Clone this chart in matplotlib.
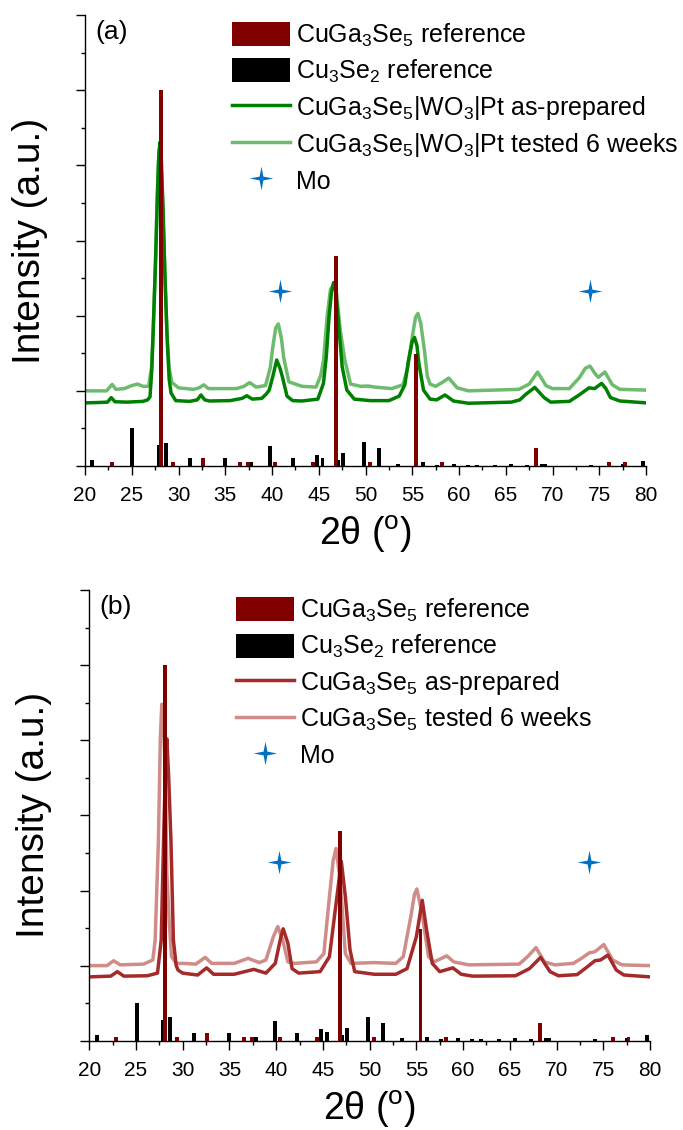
import matplotlib
matplotlib.use("Agg")
import matplotlib.pyplot as plt
from matplotlib.path import Path
from matplotlib.ticker import MultipleLocator

plt.rcParams['font.family'] = ['Liberation Sans', 'DejaVu Sans']
plt.rcParams['mathtext.fontset'] = 'custom'
plt.rcParams['mathtext.rm'] = 'Liberation Sans'
plt.rcParams['mathtext.it'] = 'Liberation Sans:italic'
plt.rcParams['mathtext.default'] = 'regular'

# reference stick patterns (2theta, relative intensity)
cgs_pos = [22.9, 28.14, 29.4, 32.57, 36.54, 37.4, 40.36, 44.36, 46.8, 50.44, 55.44, 58.15, 68.26, 76.0, 77.7]
cgs_int = [0.05, 5.0, 0.05, 0.10, 0.05, 0.05, 0.05, 0.05, 2.79, 0.05, 1.49, 0.05, 0.24, 0.05, 0.05]

cuse_pos = [20.78, 25.07, 27.86, 28.68, 31.25, 35.0, 37.8, 39.83, 42.26, 44.83, 45.4, 47.04, 47.6,
            49.83, 51.4, 53.47, 56.15, 57.6, 59.47, 60.97, 61.9, 63.8, 65.6, 67.3, 68.9, 69.2,
            74.1, 77.5, 79.66]
cuse_int = [0.076, 0.50, 0.28, 0.31, 0.10, 0.10, 0.05, 0.26, 0.10, 0.15, 0.11, 0.08, 0.17,
            0.32, 0.24, 0.03, 0.05, 0.02, 0.03, 0.02, 0.02, 0.02, 0.03, 0.02, 0.03, 0.03,
            0.02, 0.03, 0.07]

# (a) CuGa3Se5|WO3|Pt as-prepared
ap_a_x = [20.0, 21.5, 22.4, 22.8, 23.2, 24.5, 26.2, 26.7, 26.95, 27.15, 27.3, 27.55, 27.75, 27.9,
          28.03, 28.15, 28.35, 28.55, 28.8, 29.0, 29.2, 29.7, 31.2, 32.0, 32.4, 32.8, 33.3, 35.5,
          36.8, 37.3, 37.9, 38.9, 39.4, 39.7, 40.1, 40.5, 40.85, 41.1, 41.6, 42.2, 43.2, 44.9,
          45.5, 45.8, 46.1, 46.35, 46.58, 46.8, 47.05, 47.5, 48.0, 48.8, 50.5, 52.5, 53.6, 54.2,
          54.6, 55.0, 55.24, 55.5, 55.7, 56.2, 56.9, 57.6, 58.5, 59.4, 61.0, 65.6, 66.5, 67.1,
          68.1, 69.1, 69.8, 71.8, 72.9, 73.9, 74.5, 75.25, 75.7, 76.2, 77.2, 80.0]
ap_a_y = [0.84, 0.845, 0.85, 0.91, 0.855, 0.85, 0.86, 0.88, 0.92, 1.3, 1.85, 2.74, 3.63, 4.16,
          4.31, 4.11, 3.4, 2.52, 1.64, 1.15, 0.97, 0.87, 0.86, 0.88, 0.945, 0.88, 0.865, 0.87,
          0.9, 0.935, 0.89, 0.90, 0.96, 1.01, 1.2, 1.41, 1.3, 1.19, 0.93, 0.87, 0.865, 0.89,
          1.10, 1.45, 1.99, 2.3, 2.44, 2.35, 1.99, 1.32, 1.01, 0.89, 0.87, 0.87, 0.93, 1.08,
          1.41, 1.66, 1.71, 1.6, 1.37, 1.01, 0.89, 0.88, 0.945, 0.865, 0.835, 0.85, 0.88, 0.95,
          1.046, 0.91, 0.85, 0.86, 0.95, 1.04, 1.03, 1.10, 1.03, 0.91, 0.865, 0.84]

# (a) CuGa3Se5|WO3|Pt tested 6 weeks
t6_a_x = [20.0, 22.3, 22.9, 23.3, 24.2, 25.0, 25.6, 26.2, 26.8, 27.1, 27.3, 27.5, 27.7, 27.85,
          27.97, 28.1, 28.3, 28.5, 28.75, 29.0, 29.3, 30.0, 31.6, 32.2, 32.7, 33.2, 36.2, 37.0,
          37.6, 38.3, 39.3, 39.8, 40.1, 40.4, 40.67, 41.0, 41.25, 41.8, 43.2, 44.7, 45.2, 45.5,
          45.9, 46.25, 46.6, 46.9, 47.3, 47.8, 48.4, 49.5, 50.3, 51.0, 52.8, 54.0, 54.5, 55.0,
          55.35, 55.6, 55.9, 56.3, 56.6, 56.9, 57.5, 58.3, 58.9, 59.8, 61.0, 66.4, 67.5, 68.4,
          69.3, 70.0, 71.8, 72.9, 73.5, 74.0, 74.6, 74.9, 75.6, 76.4, 77.2, 80.0]
t6_a_y = [1.0, 1.0, 1.086, 1.02, 1.03, 1.07, 1.09, 1.06, 1.06, 1.3, 1.8, 2.6, 3.5, 4.05,
          4.25, 4.1, 3.5, 2.7, 1.8, 1.3, 1.11, 1.04, 1.02, 1.04, 1.08, 1.03, 1.03, 1.06,
          1.11, 1.05, 1.07, 1.3, 1.6, 1.84, 1.89, 1.7, 1.44, 1.12, 1.06, 1.05, 1.2, 1.4,
          2.0, 2.35, 2.42, 2.3, 1.8, 1.4, 1.09, 1.06, 1.064, 1.05, 1.03, 1.08, 1.3, 1.72,
          1.98, 2.03, 1.9, 1.54, 1.2, 1.09, 1.06, 1.12, 1.17, 1.04, 1.0, 1.02, 1.09, 1.25,
          1.07, 1.03, 1.03, 1.18, 1.3, 1.33, 1.22, 1.18, 1.25, 1.08, 1.02, 1.01]

# (b) CuGa3Se5 as-prepared
ap_b_x = [20.0, 22.3, 23.0, 23.7, 26.2, 27.3, 27.7, 27.95, 28.15, 28.3, 28.5, 28.74, 29.0, 29.3,
          29.5, 30.0, 31.6, 32.56, 33.3, 35.5, 37.6, 38.9, 39.9, 40.5, 40.75, 41.25, 41.7, 42.4,
          44.7, 45.7, 46.5, 46.97, 47.4, 47.9, 48.4, 50.5, 52.8, 54.0, 55.0, 55.63, 56.1, 56.7,
          57.5, 58.9, 59.8, 61.0, 65.6, 67.1, 68.3, 69.3, 70.2, 72.2, 73.3, 74.1, 74.7, 75.5,
          76.4, 77.2, 80.0]
ap_b_y = [0.85, 0.86, 0.92, 0.86, 0.865, 0.90, 1.34, 2.67, 3.6, 4.02, 3.5, 2.67, 1.34, 1.0,
          0.94, 0.90, 0.875, 0.97, 0.885, 0.885, 0.95, 0.90, 1.03, 1.38, 1.49, 1.30, 0.96, 0.90,
          0.92, 1.12, 1.92, 2.39, 1.92, 1.21, 0.92, 0.885, 0.885, 0.96, 1.385, 1.87, 1.47, 1.03,
          0.92, 0.97, 0.885, 0.86, 0.865, 0.96, 1.11, 0.92, 0.865, 0.88, 0.985, 1.065, 1.075, 1.14,
          0.94, 0.875, 0.85]

# (b) CuGa3Se5 tested 6 weeks
t6_b_x = [20.0, 21.9, 22.6, 23.3, 25.8, 26.8, 27.05, 27.4, 27.6, 27.76, 27.95, 28.14, 28.3, 28.55,
          28.8, 29.3, 30.0, 31.4, 32.4, 33.1, 35.5, 37.0, 38.2, 38.9, 39.7, 40.17, 40.7, 41.25,
          42.0, 44.3, 45.1, 45.7, 46.1, 46.4, 46.85, 47.4, 48.0, 50.5, 52.8, 53.6, 54.4, 54.8,
          55.05, 55.6, 56.3, 56.9, 58.25, 59.0, 60.6, 66.0, 66.9, 67.8, 68.7, 69.8, 71.8, 72.7,
          73.5, 74.1, 75.06, 76.0, 77.0, 80.0]
t6_b_y = [1.0, 1.0, 1.065, 1.01, 1.02, 1.075, 1.34, 2.67, 4.0, 4.48, 4.2, 3.56, 2.23, 1.6,
          1.12, 1.03, 1.03, 1.02, 1.11, 1.03, 1.03, 1.097, 1.04, 1.075, 1.385, 1.52, 1.34, 1.05,
          1.03, 1.05, 1.16, 1.92, 2.4, 2.56, 2.14, 1.16, 1.03, 1.04, 1.03, 1.12, 1.65, 1.95,
          2.02, 1.70, 1.12, 1.05, 1.13, 1.05, 1.01, 1.02, 1.12, 1.24, 1.05, 1.01, 1.03, 1.10,
          1.17, 1.185, 1.28, 1.075, 1.01, 1.0]

# Mo reflections
mo_a_x = [40.86, 74.0]
mo_a_y = [2.33, 2.33]
mo_b_x = [40.3, 73.5]
mo_b_y = [2.38, 2.38]

star = Path([(0, 1), (0.16, 0.16), (1, 0), (0.16, -0.16), (0, -1), (-0.16, -0.16),
             (-1, 0), (-0.16, 0.16), (0, 1)],
            [Path.MOVETO] + [Path.LINETO] * 7 + [Path.CLOSEPOLY])


def draw_panel(ax, tag, ap_x, ap_y, t6_x, t6_y, mo_x, mo_y, ap_label, t6_label, ap_color, t6_color):
    line_ap, = ax.plot(ap_x, ap_y, color=ap_color, lw=2.5, zorder=2)
    line_t6, = ax.plot(t6_x, t6_y, color=t6_color, lw=2.5, zorder=1.9)
    bars_cgs = ax.bar(cgs_pos, cgs_int, width=0.42, color='#800000', zorder=3)
    bars_cuse = ax.bar(cuse_pos, cuse_int, width=0.42, color='black', zorder=2.5)
    mo, = ax.plot(mo_x, mo_y, linestyle='none', marker=star, markersize=17,
                  color='#0070c0', markeredgewidth=0, zorder=4)

    ax.set_xlim(20, 80)
    ax.set_ylim(0, 6)
    ax.xaxis.set_major_locator(MultipleLocator(5))
    ax.xaxis.set_minor_locator(MultipleLocator(2.5))
    ax.yaxis.set_major_locator(MultipleLocator(1))
    ax.yaxis.set_minor_locator(MultipleLocator(0.5))
    ax.tick_params(which='major', direction='out', length=6.5, width=1, labelsize=15, pad=8)
    ax.tick_params(which='minor', direction='out', length=3, width=1)
    ax.tick_params(axis='y', labelleft=False)
    for side in ['top', 'right']:
        ax.spines[side].set_visible(False)
    for side in ['left', 'bottom']:
        ax.spines[side].set_linewidth(1)

    ax.set_xlabel('2θ ($^{o}$)', fontsize=27, labelpad=6)
    ax.set_ylabel('Intensity (a.u.)', fontsize=28, labelpad=20)
    ax.text(0.018, 0.99, tag, transform=ax.transAxes, va='top', ha='left', fontsize=19)

    ax.legend([bars_cgs, bars_cuse, line_ap, line_t6, mo],
              ['CuGa$_3$Se$_5$ reference', 'Cu$_3$Se$_2$ reference', ap_label, t6_label, 'Mo'],
              loc='upper left', bbox_to_anchor=(0.262, 0.985), frameon=False, fontsize=18,
              handlelength=2.3, handleheight=1.1, labelspacing=0.36, handletextpad=0.25,
              borderpad=0, borderaxespad=0)


fig = plt.figure(figsize=(6.83, 11.3), dpi=100)
ax_a = fig.add_axes([0.1245, 0.5876, 0.8214, 0.3991])
ax_b = fig.add_axes([0.1307, 0.0790, 0.8210, 0.3988])

draw_panel(ax_a, '(a)', ap_a_x, ap_a_y, t6_a_x, t6_a_y, mo_a_x, mo_a_y,
           'CuGa$_3$Se$_5$|WO$_3$|Pt as-prepared', 'CuGa$_3$Se$_5$|WO$_3$|Pt tested 6 weeks',
           '#008000', '#6dbb6d')
draw_panel(ax_b, '(b)', ap_b_x, ap_b_y, t6_b_x, t6_b_y, mo_b_x, mo_b_y,
           'CuGa$_3$Se$_5$ as-prepared', 'CuGa$_3$Se$_5$ tested 6 weeks',
           '#a52a2a', '#d08c88')

fig.savefig('out.png', dpi=100)
